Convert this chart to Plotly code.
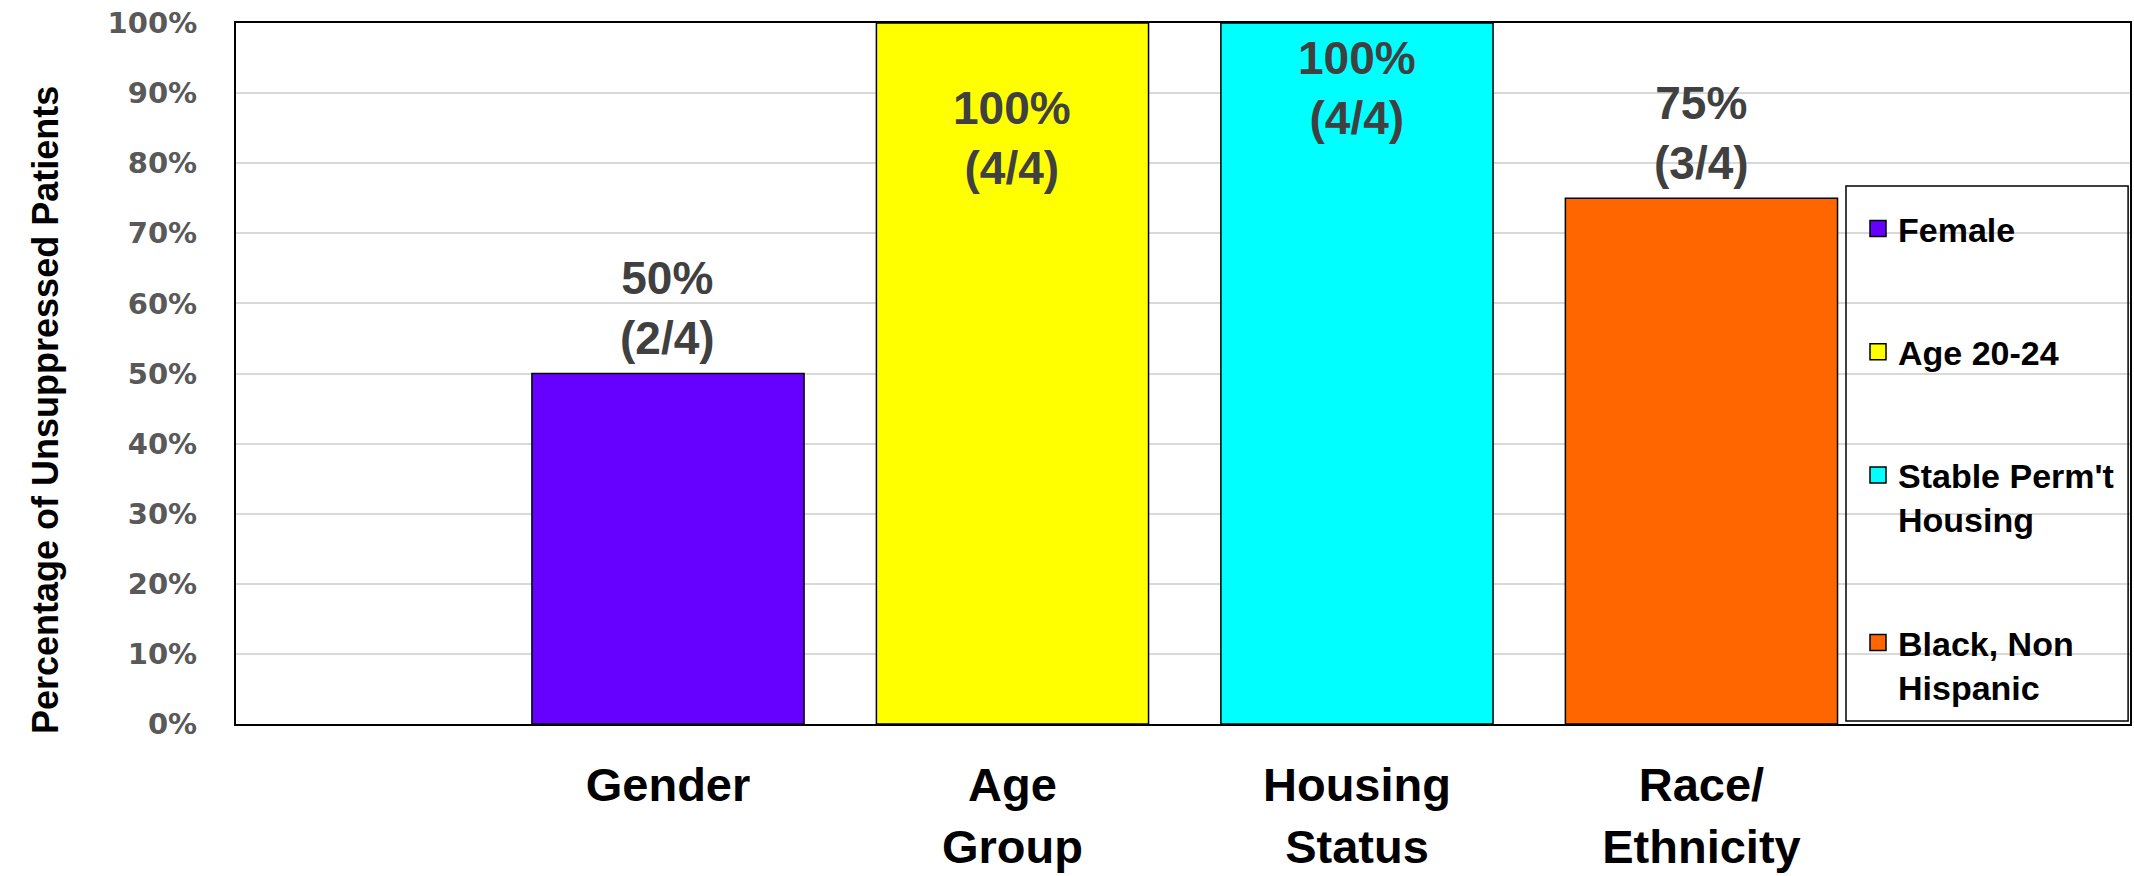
import plotly.graph_objects as go

# ---- data ----
categories = ["Gender", "Age Group", "Housing Status", "Race/ Ethnicity"]
tick_text = ["Gender", "Age<br>Group", "Housing<br>Status", "Race/<br>Ethnicity"]
series_names = ["Female", "Age 20-24", "Stable Perm't<br>Housing", "Black, Non<br>Hispanic"]
values = [0.50, 1.00, 1.00, 0.75]
counts = ["(2/4)", "(4/4)", "(4/4)", "(3/4)"]
label_y = [0.593, 0.836, 0.907, 0.843]
colors = ["#6600FF", "#FFFF00", "#00FFFF", "#FF6600"]

W, H = 2134, 876
L, R, T, B = 236, 4, 23, 152

fig = go.Figure()
for cat, name, val, col in zip(categories, series_names, values, colors):
    fig.add_trace(go.Bar(
        x=[cat], y=[val], name=name, width=0.79,
        marker=dict(color=col, line=dict(color="#000000", width=1.5)),
        showlegend=False,
    ))

# legend entries (square swatches)
for name, col in zip(series_names, colors):
    fig.add_trace(go.Scatter(
        x=[None], y=[None], mode="markers", name=name, legendgroup=name,
        marker=dict(symbol="square", size=16, color=col, line=dict(color="#000000", width=1.5)),
    ))

for cat, val, cnt, ly in zip(categories, values, counts, label_y):
    fig.add_annotation(
        x=cat, y=ly, xref="x", yref="y",
        text=f"{val:.0%}<br>{cnt}", showarrow=False,
        font=dict(family="Liberation Sans", size=46, color="#404040", weight="bold"),
        yanchor="middle", xanchor="center",
    )

# y-axis title
fig.add_annotation(
    x=(45 - L) / (W - L - R), y=(H - B - 410) / (H - T - B), xref="paper", yref="paper",
    text="Percentage of Unsuppressed Patients", textangle=-90, showarrow=False,
    font=dict(family="Liberation Sans", size=36, color="#000000", weight="bold"),
    xanchor="center", yanchor="middle",
)

# legend box
lx0 = (1846 - L) / (W - L - R)
ly1 = (H - B - 186) / (H - T - B)
ly0 = (H - B - 721) / (H - T - B)
fig.add_shape(type="rect", xref="paper", yref="paper", x0=lx0, x1=0.999, y0=ly0, y1=ly1,
              line=dict(color="#000000", width=1.5), fillcolor="rgba(0,0,0,0)", layer="above")

fig.update_layout(
    width=W, height=H,
    margin=dict(l=L, r=R, t=T, b=B, autoexpand=False),
    paper_bgcolor="white", plot_bgcolor="white",
    barmode="overlay",
    showlegend=True,
    legend=dict(
        x=(1858 - L) / (W - L - R), y=(H - B - 200) / (H - T - B),
        xanchor="left", yanchor="top",
        bgcolor="rgba(0,0,0,0)", borderwidth=0,
        font=dict(family="Liberation Sans", size=34, color="#000000", weight="bold"),
        tracegroupgap=76, valign="top", traceorder="grouped", itemsizing="trace",
    ),
    xaxis=dict(
        type="category", categoryorder="array", categoryarray=categories,
        range=[-1.254, 4.244], automargin=False,
        tickvals=categories, ticktext=tick_text,
        tickfont=dict(family="Liberation Sans", size=47, color="#000000", weight="bold"),
        ticks="", ticklabelstandoff=19,
        showline=True, linecolor="#000000", linewidth=2, mirror=True,
        showgrid=False, zeroline=False,
    ),
    yaxis=dict(
        range=[0, 1], dtick=0.1, tickformat=".0%", automargin=False,
        tickfont=dict(family="DejaVu Sans", size=29, color="#595959", weight="bold"),
        ticks="", ticklabelstandoff=31,
        showline=True, linecolor="#000000", linewidth=2, mirror=True,
        showgrid=True, gridcolor="#D9D9D9", gridwidth=2, zeroline=False,
    ),
)

fig.write_html("out.html")
